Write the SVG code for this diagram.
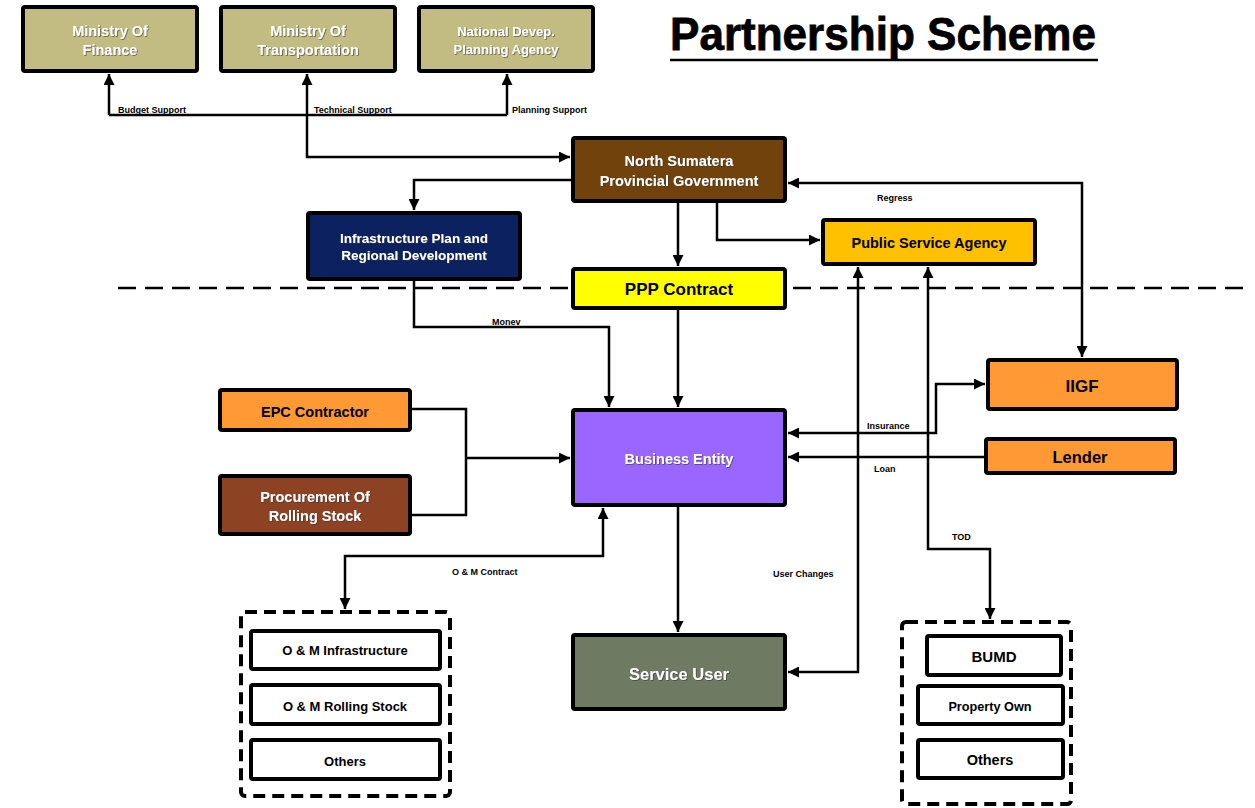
<svg xmlns="http://www.w3.org/2000/svg" width="1255" height="808" viewBox="0 0 1255 808">
<style>
.box{stroke:#000;stroke-width:4}
.t{font-family:"Liberation Sans",Arial,sans-serif;font-weight:bold;text-anchor:middle}
.w{fill:#fff;filter:url(#sh)}
.k{fill:#000}
.lbl{font-family:"Liberation Sans",Arial,sans-serif;font-weight:bold;font-size:9px;fill:#000}
.c{fill:none;stroke:#000;stroke-width:2.5}
.dash{fill:none;stroke:#000;stroke-width:4;stroke-dasharray:12 7}
</style>
<defs>
<marker id="ar" markerUnits="userSpaceOnUse" markerWidth="12" markerHeight="11" refX="11" refY="5.5" orient="auto-start-reverse">
<path d="M0,0 L11,5.5 L0,11 z" fill="#000"/>
</marker>
<filter id="sh" x="-10%" y="-30%" width="120%" height="160%">
<feDropShadow dx="0.8" dy="0.8" stdDeviation="0.4" flood-color="#333" flood-opacity="0.7"/>
</filter>
</defs>
<rect width="1255" height="808" fill="#fff"/>

<g id="title">
<text x="670" y="50" font-family="'Liberation Sans',Arial,sans-serif" font-weight="bold" font-size="47" stroke="#000" stroke-width="0.8" textLength="426" lengthAdjust="spacingAndGlyphs">Partnership Scheme</text>
<line x1="670" y1="60" x2="1098" y2="60" stroke="#000" stroke-width="2.5"/>
</g>

<g id="divider">
<line x1="118" y1="288" x2="1245" y2="288" stroke="#000" stroke-width="2.5" stroke-dasharray="18 9"/>
</g>

<g id="connectors">
<path class="c" d="M109,115 H507"/>
<path class="c" d="M109,115 V74" marker-end="url(#ar)"/>
<path class="c" d="M507,115 V74" marker-end="url(#ar)"/>
<path class="c" d="M570,157 H307 V74" marker-start="url(#ar)" marker-end="url(#ar)"/>
<path class="c" d="M571,180 H414 V210" marker-end="url(#ar)"/>
<path class="c" d="M678,203 V266" marker-end="url(#ar)"/>
<path class="c" d="M717,203 V240 H820" marker-end="url(#ar)"/>
<path class="c" d="M788,183 H1082 V357" marker-start="url(#ar)" marker-end="url(#ar)"/>
<path class="c" d="M414,281 V327 H609 V407" marker-end="url(#ar)"/>
<path class="c" d="M678,310 V407" marker-end="url(#ar)"/>
<path class="c" d="M412,409 H466 V515 H412"/>
<path class="c" d="M466,458 H570" marker-end="url(#ar)"/>
<path class="c" d="M788,433 H936 V384 H985" marker-start="url(#ar)" marker-end="url(#ar)"/>
<path class="c" d="M984,457 H788" marker-end="url(#ar)"/>
<path class="c" d="M858,267 V672 H788" marker-start="url(#ar)" marker-end="url(#ar)"/>
<path class="c" d="M928,267 V549 H990 V619" marker-start="url(#ar)" marker-end="url(#ar)"/>
<path class="c" d="M678,507 V632" marker-end="url(#ar)"/>
<path class="c" d="M603,508 V556 H345 V609" marker-start="url(#ar)" marker-end="url(#ar)"/>
<text class="lbl" x="118" y="113">Budget Support</text>
<text class="lbl" x="314" y="113">Technical Support</text>
<text class="lbl" x="512" y="113">Planning Support</text>
<text class="lbl" x="877" y="201">Regress</text>
<text class="lbl" x="492" y="325">Monev</text>
<text class="lbl" x="867" y="429">Insurance</text>
<text class="lbl" x="874" y="472">Loan</text>
<text class="lbl" x="452" y="575">O &amp; M Contract</text>
<text class="lbl" x="773" y="577">User Changes</text>
<text class="lbl" x="952" y="540">TOD</text>
</g>

<g id="mof">
<rect class="box" x="23" y="7" width="174" height="64" rx="2" fill="#c2bb82"/>
<text class="t w" x="110" y="36" font-size="14.5">Ministry Of</text>
<text class="t w" x="110" y="55" font-size="14.5">Finance</text>
</g>
<g id="mot">
<rect class="box" x="221" y="7" width="174" height="64" rx="2" fill="#c2bb82"/>
<text class="t w" x="308" y="36" font-size="14.5">Ministry Of</text>
<text class="t w" x="308" y="55" font-size="14.5">Transportation</text>
</g>
<g id="bappenas">
<rect class="box" x="419" y="7" width="174" height="64" rx="2" fill="#c2bb82"/>
<text class="t w" x="506" y="36" font-size="13">National Devep.</text>
<text class="t w" x="506" y="54" font-size="13">Planning Agency</text>
</g>
<g id="nspg">
<rect class="box" x="573" y="138" width="212" height="63" rx="2" fill="#71420c"/>
<text class="t w" x="679" y="166" font-size="14.5">North Sumatera</text>
<text class="t w" x="679" y="186" font-size="14.5">Provincial Government</text>
</g>
<g id="infra">
<rect class="box" x="308" y="213" width="212" height="66" rx="2" fill="#0c2160"/>
<text class="t w" x="414" y="243" font-size="13.5">Infrastructure Plan and</text>
<text class="t w" x="414" y="260" font-size="13.5">Regional Development</text>
</g>
<g id="psa">
<rect class="box" x="823" y="220" width="212" height="44" rx="2" fill="#ffc000"/>
<text class="t k" x="929" y="248" font-size="14.5">Public Service Agency</text>
</g>
<g id="ppp">
<rect class="box" x="573" y="269" width="212" height="39" rx="2" fill="#ffff00"/>
<text class="t k" x="679" y="295" font-size="17">PPP Contract</text>
</g>
<g id="iigf">
<rect class="box" x="988" y="360" width="189" height="49" rx="2" fill="#ff9933"/>
<text class="t k" x="1082" y="392" font-size="17">IIGF</text>
</g>
<g id="lender">
<rect class="box" x="986" y="439" width="189" height="34" rx="2" fill="#ff9933"/>
<text class="t k" x="1080" y="463" font-size="16.5">Lender</text>
</g>
<g id="epc">
<rect class="box" x="220" y="390" width="190" height="40" rx="2" fill="#ff9933"/>
<text class="t k" x="315" y="417" font-size="14.5">EPC Contractor</text>
</g>
<g id="procurement">
<rect class="box" x="220" y="476" width="190" height="58" rx="2" fill="#8e4224"/>
<text class="t w" x="315" y="502" font-size="14.5">Procurement Of</text>
<text class="t w" x="315" y="521" font-size="14.5">Rolling Stock</text>
</g>
<g id="business-entity">
<rect class="box" x="573" y="410" width="212" height="95" rx="2" fill="#9966ff"/>
<text class="t w" x="679" y="464" font-size="14.5">Business Entity</text>
</g>
<g id="service-user">
<rect class="box" x="573" y="635" width="212" height="74" rx="2" fill="#6e7a62"/>
<text class="t w" x="679" y="680" font-size="16.5">Service User</text>
</g>
<g id="om-group">
<rect class="dash" x="241" y="612" width="209" height="184" rx="4"/>
<rect class="box" x="251" y="631" width="189" height="38" rx="2" fill="#fff"/>
<text class="t k" x="345" y="655" font-size="13">O &amp; M Infrastructure</text>
<rect class="box" x="251" y="685" width="189" height="39" rx="2" fill="#fff"/>
<text class="t k" x="345" y="711" font-size="13">O &amp; M Rolling Stock</text>
<rect class="box" x="251" y="740" width="189" height="39" rx="2" fill="#fff"/>
<text class="t k" x="345" y="766" font-size="13">Others</text>
</g>
<g id="tod-group">
<rect class="dash" x="902" y="622" width="169" height="182" rx="4"/>
<rect class="box" x="927" y="636" width="134" height="39" rx="2" fill="#fff"/>
<text class="t k" x="994" y="662" font-size="15">BUMD</text>
<rect class="box" x="918" y="686" width="145" height="38" rx="2" fill="#fff"/>
<text class="t k" x="990" y="711" font-size="12.7">Property Own</text>
<rect class="box" x="918" y="740" width="145" height="38" rx="2" fill="#fff"/>
<text class="t k" x="990" y="765" font-size="14.5">Others</text>
</g>
</svg>
